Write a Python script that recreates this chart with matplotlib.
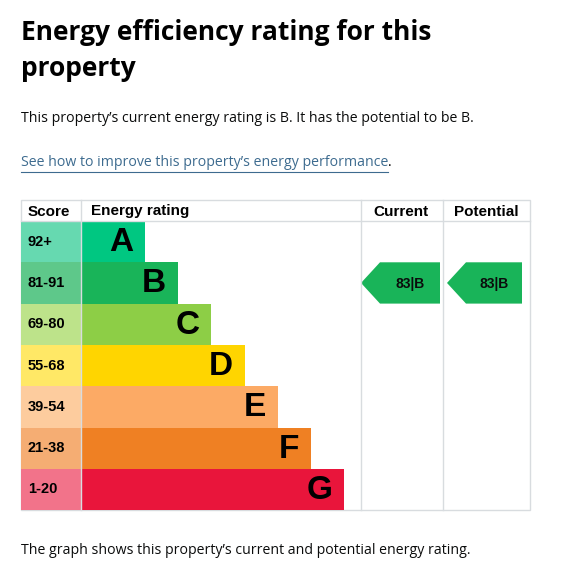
import matplotlib
matplotlib.use("Agg")
import matplotlib.pyplot as plt
from matplotlib.patches import Rectangle, Polygon

bands = ["A", "B", "C", "D", "E", "F", "G"]
scores = ["92+", "81-91", "69-80", "55-68", "39-54", "21-38", "1-20"]
colors = ["#00c781", "#19b459", "#8dce46", "#ffd500", "#fcaa65", "#ef8023", "#e9153b"]
light = ["#66d9b0", "#5ec88a", "#bde38a", "#ffe866", "#fdcc9e", "#f5ad73", "#f2738a"]
current_score, current_band = 83, "B"
potential_score, potential_band = 83, "B"

fig = plt.figure(figsize=(5.61, 5.75), dpi=100)
ax = fig.add_axes([0, 0, 1, 1])
ax.set_xlim(0, 561); ax.set_ylim(575, 0); ax.axis("off")

TF = "Open Sans"
ax.text(21, 33, "Energy efficiency rating for this", fontsize=19, fontweight="bold", family=TF, va="center")
ax.text(21, 69, "property", fontsize=19, fontweight="bold", family=TF, va="center")
ax.text(21, 119, "This property\u2019s current energy rating is B. It has the potential to be B.", fontsize=10.2, family=TF, va="center", color="#0b0c0c")
t = ax.text(21, 163, "See how to improve this property\u2019s energy performance", fontsize=10.2, family=TF, va="center", color="#3d6b8f")
fig.canvas.draw()
bb = t.get_window_extent(fig.canvas.get_renderer())
xend = bb.x1
ax.plot([21, xend], [172, 172], color="#3d6b8f", lw=0.8)
ax.text(xend, 163, ".", fontsize=10.2, family=TF, va="center")
ax.text(21, 551, "The graph shows this property\u2019s current and potential energy rating.", fontsize=10.2, family=TF, va="center", color="#0b0c0c")

top, head, rh = 200, 21, 41.3
x0, xs, xc, xp, xe = 21, 81, 361, 443, 530
grid = "#d8dcdf"
ax.add_patch(Rectangle((x0, top), xe - x0, head + rh * 7, fill=False, ec=grid, lw=1))
ax.plot([x0, xe], [top + head] * 2, color=grid, lw=1)
for x in (xs, xc, xp):
    ax.plot([x, x], [top, top + head + rh * 7], color=grid, lw=1)
HF = "Liberation Sans"
for x, s in [(28, "Score"), (91, "Energy rating"), (373, "Current"), (454, "Potential")]:
    ax.text(x, top + head / 2 + 1, s, fontsize=11, fontweight="bold", family=HF, va="center")

for i, (b, sc, c, lc) in enumerate(zip(bands, scores, colors, light)):
    y = top + head + i * rh
    ax.add_patch(Rectangle((x0, y), xs - x0, rh, color=lc, lw=0))
    ax.text(28, y + rh / 2, sc, fontsize=10.5, fontweight="bold", family=HF, va="center")
    end = 145 + i * 33.2
    ax.add_patch(Rectangle((xs, y), end - xs, rh, color=c, lw=0))
    ax.text(end - 12, y + rh / 2 + 1, b, fontsize=24, fontweight="bold", family=HF, va="center", ha="right")

def arrow(score, band, xl, xr):
    i = bands.index(band)
    y = top + head + i * rh
    h = rh
    ax.add_patch(Polygon([(xl, y + h / 2), (xl + 19, y), (xr, y), (xr, y + h), (xl + 19, y + h)],
                         closed=True, color=colors[i], lw=0))
    ax.text((xl + 19 + xr) / 2, y + h / 2 + 1, f"{score}|{band}", fontsize=10, fontweight="bold",
            family=HF, va="center", ha="center", color="#0b0c0c")

arrow(current_score, current_band, 361, 440)
arrow(potential_score, potential_band, 447, 522)
fig.savefig("out.png", dpi=100)
